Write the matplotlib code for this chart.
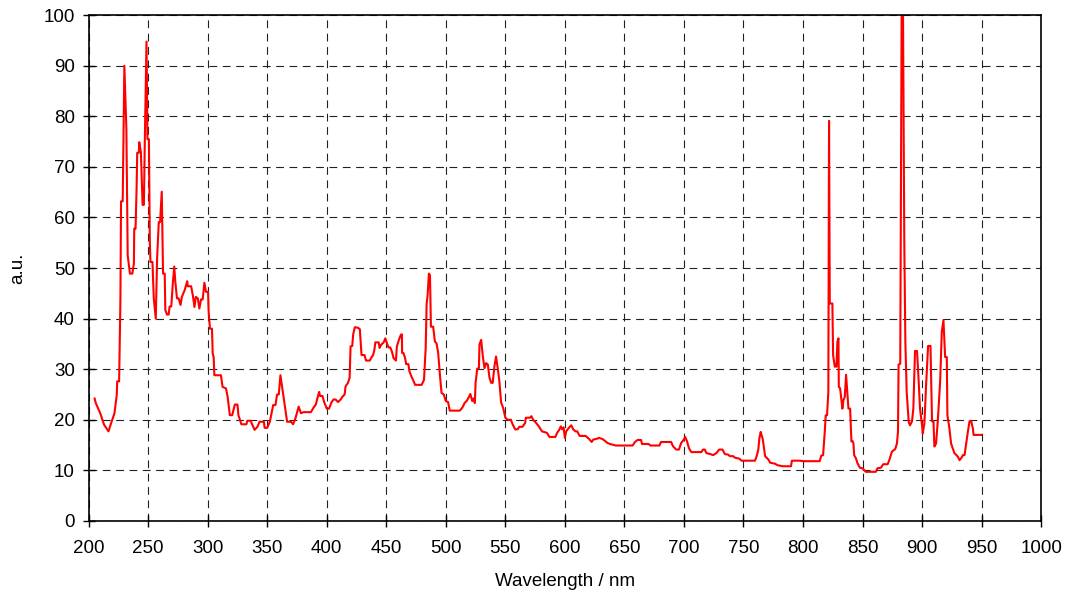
import numpy as np
import matplotlib
matplotlib.use("Agg")
import matplotlib.pyplot as plt

plt.rcParams['font.family'] = ['Liberation Sans', 'DejaVu Sans']

# spectrum: wavelength (nm) and intensity (a.u.)
wl = [205, 206, 209.7, 213, 216.7, 218, 221.7, 223.6, 224, 225.6, 226.7, 227.2, 228.6, 230, 231.7,
      232.8, 234.7, 236.7, 238, 238.3, 239.4, 240.3, 240.8, 242.2, 242.5, 243.9, 245.3, 246.4, 247.2,
      248.6, 249.4, 250.6, 251.4, 251.9, 253.6, 254.7, 256.4, 257.5, 258.9, 260, 261.4, 262.5, 263.9,
      264.4, 265.8, 267.2, 268, 269.4, 270.8, 271.9, 272.8, 274.2, 275.6, 277.2, 278.3, 280.6, 282.8,
      283.3, 286.1, 287.5, 288.9, 290, 291.7, 293, 294.4, 295.8, 297.2, 298.6, 300.3, 300.8, 301.9,
      303.6, 304.2, 305, 305.6, 311.1, 312.5, 315.3, 316.7, 318.6, 320.6, 322.8, 325, 325.8, 328.3,
      332.5, 333.3, 336.1, 337.5, 339.4, 341.7, 343.6, 347.2, 347.8, 350, 352.2, 355, 356.9, 358.3,
      359.7, 361.1, 366.7, 370, 371.7, 373.6, 376.4,
      378.3, 380.6, 386.7, 388.9, 390.8, 392.2, 393.6, 394.4, 396.4, 397.8, 400, 401.9, 403.9, 405.6,
      407.5, 409.4, 411.7, 413, 415, 415.8, 417.8, 419.2, 420, 421.4, 422.2, 423.6, 426.1, 427.8, 429.2,
      431.7, 433, 436.1, 437.5, 438.9, 440, 440.8, 443.6, 444.4, 445.6, 447.8, 449.2, 450.6, 451.9,
      453.3, 454.7, 456.1, 458.1, 458.9, 460.3, 462.2, 463.1, 463.3, 464.4, 465.8, 466.7, 468.6, 469.4,
      471.4, 472.8, 474.2, 479.7, 481.7, 483.1, 483.9, 484.7, 485.8, 486.7, 487.5, 489.4, 490.8, 492.2,
      493.6, 495, 496.4, 498.3, 500, 501.9, 503.3, 511.7, 513.9, 515.8, 517.8, 519.4, 520.6, 522.2,
      523.3, 524.4, 525, 526.4, 527.8, 528.3, 529.7, 531.1, 532.5, 533.9, 535.3, 536.7, 538.1, 539.4,
      540.8, 542.2, 543.6, 545, 546.4, 548.3, 550, 551.9, 554.7, 556.1, 558.3, 560.3, 561.7, 564.4,
      566.7, 567.2, 570.6, 571.9, 573.6, 575, 577.8,
      580.8, 585, 587, 592, 593.5, 595.5, 596.6, 597.7, 598.9, 600, 601.1, 603.4, 605.4, 607, 609,
      610.4, 612.4, 617.5, 620.3, 622.5, 624, 626.5, 628.7, 631.5, 633.8, 635.8, 638, 642.8, 656.9,
      658.9, 661.1, 664, 664.8, 670.4, 671.8, 679.4, 680.8, 689.3, 690.7, 693.5, 695.8, 697.7, 699.7,
      701.1, 702.5, 704.2, 706.2, 714.6, 716.1, 717.5, 718.9, 722.3, 724.5, 727.3, 729.6, 732.4, 734.4,
      737.2, 738.6, 741.4, 742.8, 746.5, 748.5, 759.7, 761.1, 762.5, 763.4, 764.5, 765.4, 766.2, 767.3,
      768.2, 771, 772.4, 776.6, 778.6, 783.1, 789.9, 790.7, 797.2,
      800.8, 814, 815.4, 816.9, 818.3, 819.1, 820.2, 821.3, 821.9, 822.5, 824.7, 825.3, 826.7, 828.1,
      828.9, 829.8, 830.1, 831.2, 832.3, 833.1, 834, 835.1, 836.2, 837.4, 838.2, 839.6, 840.7, 841.6,
      842.4, 843, 844.4, 845.8, 847.8, 850, 852.8, 861.2, 862.6, 865.4, 867.4, 871.1, 872.5, 874.7,
      877.5, 878.9, 879.8, 880.3, 881.7, 882.9, 884, 885.1, 886, 887.1, 888.8, 889.9, 891.6, 892.7,
      894.1, 895.8, 897.2, 898.3, 900, 900.6, 902, 903.4, 905.1, 907.1, 908.4, 909.6, 910.4, 911.8,
      913.2, 915.2, 916.6, 918, 919.4, 920.8, 921.3, 923, 924.4, 927.2, 930.1, 931.5, 932.9, 934.3,
      935.7, 937.1, 938.5, 939.9, 941.3, 942.7, 943.3, 949.7]

au = [24.2, 23.3, 21.3, 19, 17.7, 18.7, 21.3, 24.9, 27.6, 27.6, 44, 63.2, 63.2, 90, 77.5,
      52.5, 48.9, 48.9, 50.9, 57.8, 57.8, 66, 72.8, 72.8, 74.9, 72.9, 62.5, 62.5, 75.5,
      94.8, 75.5, 75.5, 55.2, 51.2, 51.2, 44, 40, 51.9, 59.1, 59.1, 65.1, 48.9, 48.9,
      41.7, 40.8, 40.8, 42.4, 42.4, 47.3, 50.3, 47.3, 44, 44, 42.7, 44.3, 45.6, 47.4,
      46.4, 46.4, 44.6, 42.3, 44.3, 44, 42, 43.8, 43.8, 47.1, 45.3, 45.3, 41.3, 38,
      38, 33.1, 32.4, 28.8, 28.8, 26.5, 26.2, 24.6, 20.9, 20.9, 23, 23, 20.9, 19.1,
      19.1, 19.8, 19.8, 19, 18, 18.6, 19.6, 19.6, 18.4, 18.4, 19.6, 22.9, 22.9, 25,
      25, 28.8, 19.6, 19.6, 19.1, 20.2, 22.6,
      21.3, 21.5, 21.5, 22.4, 23, 24.3, 25.5, 24.7, 24.7, 23.5, 22.2, 22.2, 23.4, 24,
      24, 23.5, 24, 24.5, 25, 26.6, 27.3, 28.3, 34.5, 34.6, 36.9, 38.3, 38.2, 37.9, 32.8,
      32.8, 31.7, 31.7, 32.3, 32.8, 33.8, 35.3, 35.3, 34.2, 34.8, 35.3, 36.1, 35.1, 34.3,
      34.3, 33.5, 32.2, 31.7, 34.5, 35.6, 36.8, 36.9, 33.2, 33.2, 32.2, 31, 31, 29.6,
      28.4, 27.7, 26.9, 26.9, 27.9, 34.2, 43, 44.6, 48.9, 48.6, 38.4, 38.4, 35.5, 35.1,
      33.2, 29, 25.3, 25, 23.7, 23.5, 21.8, 21.8, 22.4, 23.3, 23.8, 24.5, 25.1, 23.7,
      24.2, 23.3, 27.3, 30.1, 30.2, 34.9, 35.8, 32.5, 30.2, 31.2, 30.9, 28.3, 27.3, 27.3,
      30.5, 32.5, 30.2, 27.6, 23.5, 22.2, 20.4, 20, 20, 19.1, 18.1, 18.1, 18.6, 18.6,
      19.4, 20.4, 20.4, 20.7, 19.9, 19.6, 18.8,
      17.7, 17.4, 16.6, 16.6, 17.4, 18.1, 18.7, 18.1, 18.5, 16.4, 17.7, 18.4, 18.9, 18.1, 17.7,
      17.7, 16.8, 16.8, 16.2, 15.6, 16.1, 16.2, 16.4, 16.2, 15.8, 15.4, 15.2, 14.9, 14.9,
      15.6, 16, 16, 15.2, 15.2, 14.9, 14.9, 15.6, 15.6, 14.8, 14.1, 14.1, 15.4, 16,
      16.6, 15.8, 14.4, 13.6, 13.6, 14.1, 14.1, 13.4, 13.2, 13, 13.4, 14.1, 14.1, 13.2,
      13.1, 12.8, 12.8, 12.5, 12.3, 11.9, 11.9, 12.8, 14.1, 16.4, 17.6, 16.8, 16.2, 14.4,
      12.8, 12.1, 11.5, 11.3, 11, 10.8, 10.8, 11.9, 11.9,
      11.8, 11.8, 12.9, 13, 17.6, 20.9, 20.9, 25.5, 79.1, 43, 43, 32.8, 30.5, 30.5,
      35.4, 36.1, 26.5, 26.2, 23.9, 22.2, 23.9, 24.5, 28.9, 24.9, 22.2, 22.2, 15.7, 15.8,
      15.3, 13, 12.4, 11.4, 10.5, 10.4, 9.7, 9.7, 10.4, 10.5, 11.2, 11.2, 12, 13.7,
      14.2, 15.3, 17.6, 30.9, 31.1, 102, 102, 55.1, 35.4, 25.5, 19.6, 18.9, 19.7, 22.2,
      33.6, 33.6, 27.5, 22.2, 18.9, 17.3, 19.3, 26.8, 34.6, 34.6, 19.7, 19.7, 14.7, 15.3,
      19.6, 27.5, 37.4, 39.7, 32.4, 32.4, 20.9, 18.3, 15.3, 13.4, 12.7, 12, 12.4, 13,
      13, 15.3, 17.6, 19.7, 19.7, 18.3, 17, 17]

x_ticks = np.arange(200, 1001, 50)
y_ticks = np.arange(0, 101, 10)

fig = plt.figure(figsize=(10.68, 5.98), dpi=100)
ax = fig.add_axes([0.083, 0.129, 0.8918, 0.8455])

ax.plot(wl, au, color='#ff0000', lw=1.5)

ax.set_xlim(200, 1000)
ax.set_ylim(0, 100)
ax.set_xticks(x_ticks)
ax.set_yticks(y_ticks)
ax.grid(True, color='#222222', lw=0.8, linestyle=(0, (7, 5)))
ax.tick_params(direction='inout', length=8, width=1, labelsize=13.5, color='black')
ax.tick_params(axis='x', pad=10)
ax.tick_params(axis='y', pad=6)
for s in ax.spines.values():
    s.set_linewidth(1.2)

ax.set_xlabel('Wavelength / nm', fontsize=13.5, labelpad=11)
ax.set_ylabel('a.u.', fontsize=13.5, labelpad=12)

fig.savefig('out.png', dpi=100)
